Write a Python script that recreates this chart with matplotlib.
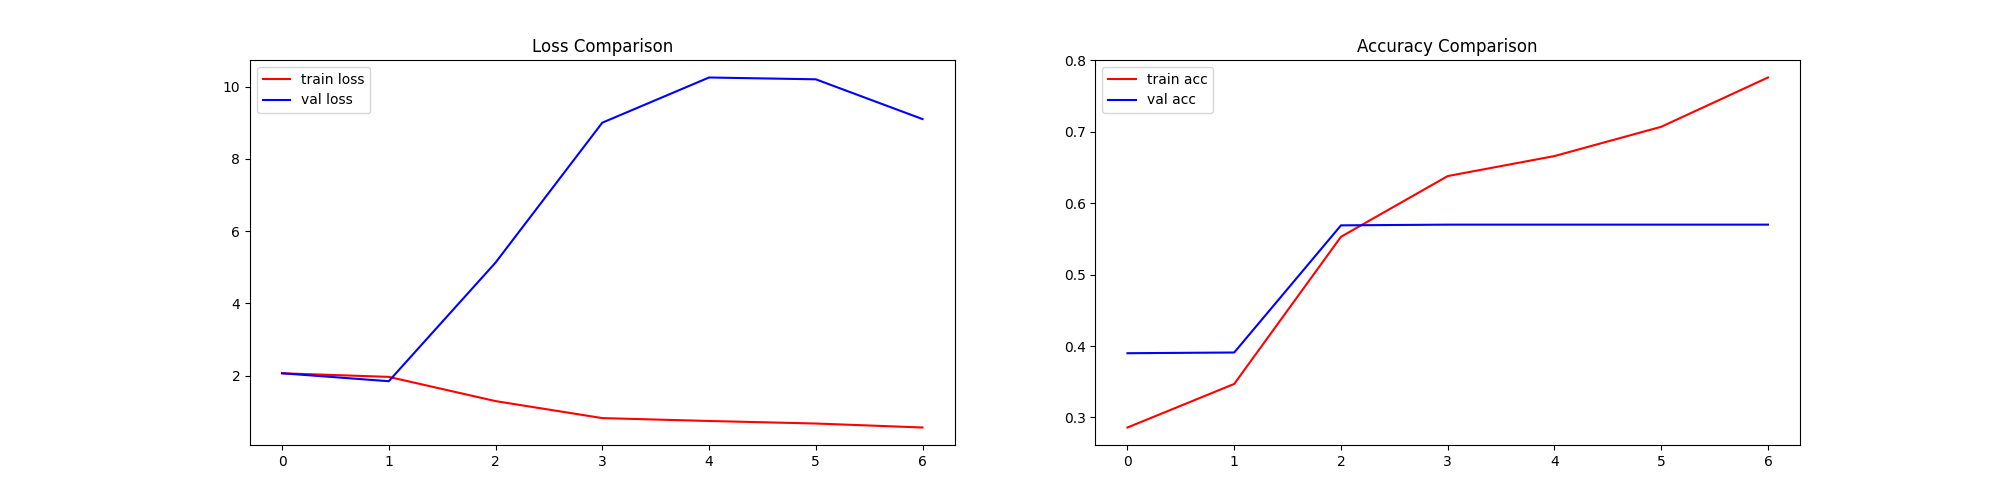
import matplotlib
matplotlib.use("Agg")
import matplotlib.pyplot as plt

epochs = [0, 1, 2, 3, 4, 5, 6]
train_loss = [2.07, 1.97, 1.30, 0.83, 0.75, 0.68, 0.57]
val_loss = [2.07, 1.85, 5.13, 9.00, 10.25, 10.20, 9.10]
train_acc = [0.286, 0.347, 0.553, 0.638, 0.666, 0.707, 0.776]
val_acc = [0.390, 0.391, 0.569, 0.570, 0.570, 0.570, 0.570]

fig, (ax1, ax2) = plt.subplots(1, 2, figsize=(20, 5), dpi=100)
ax1.plot(epochs, train_loss, color="red", label="train loss")
ax1.plot(epochs, val_loss, color="blue", label="val loss")
ax1.set_title("Loss Comparison")
ax1.legend(loc="upper left")
ax2.plot(epochs, train_acc, color="red", label="train acc")
ax2.plot(epochs, val_acc, color="blue", label="val acc")
ax2.set_title("Accuracy Comparison")
ax2.legend(loc="upper left")
fig.savefig("out.png")
